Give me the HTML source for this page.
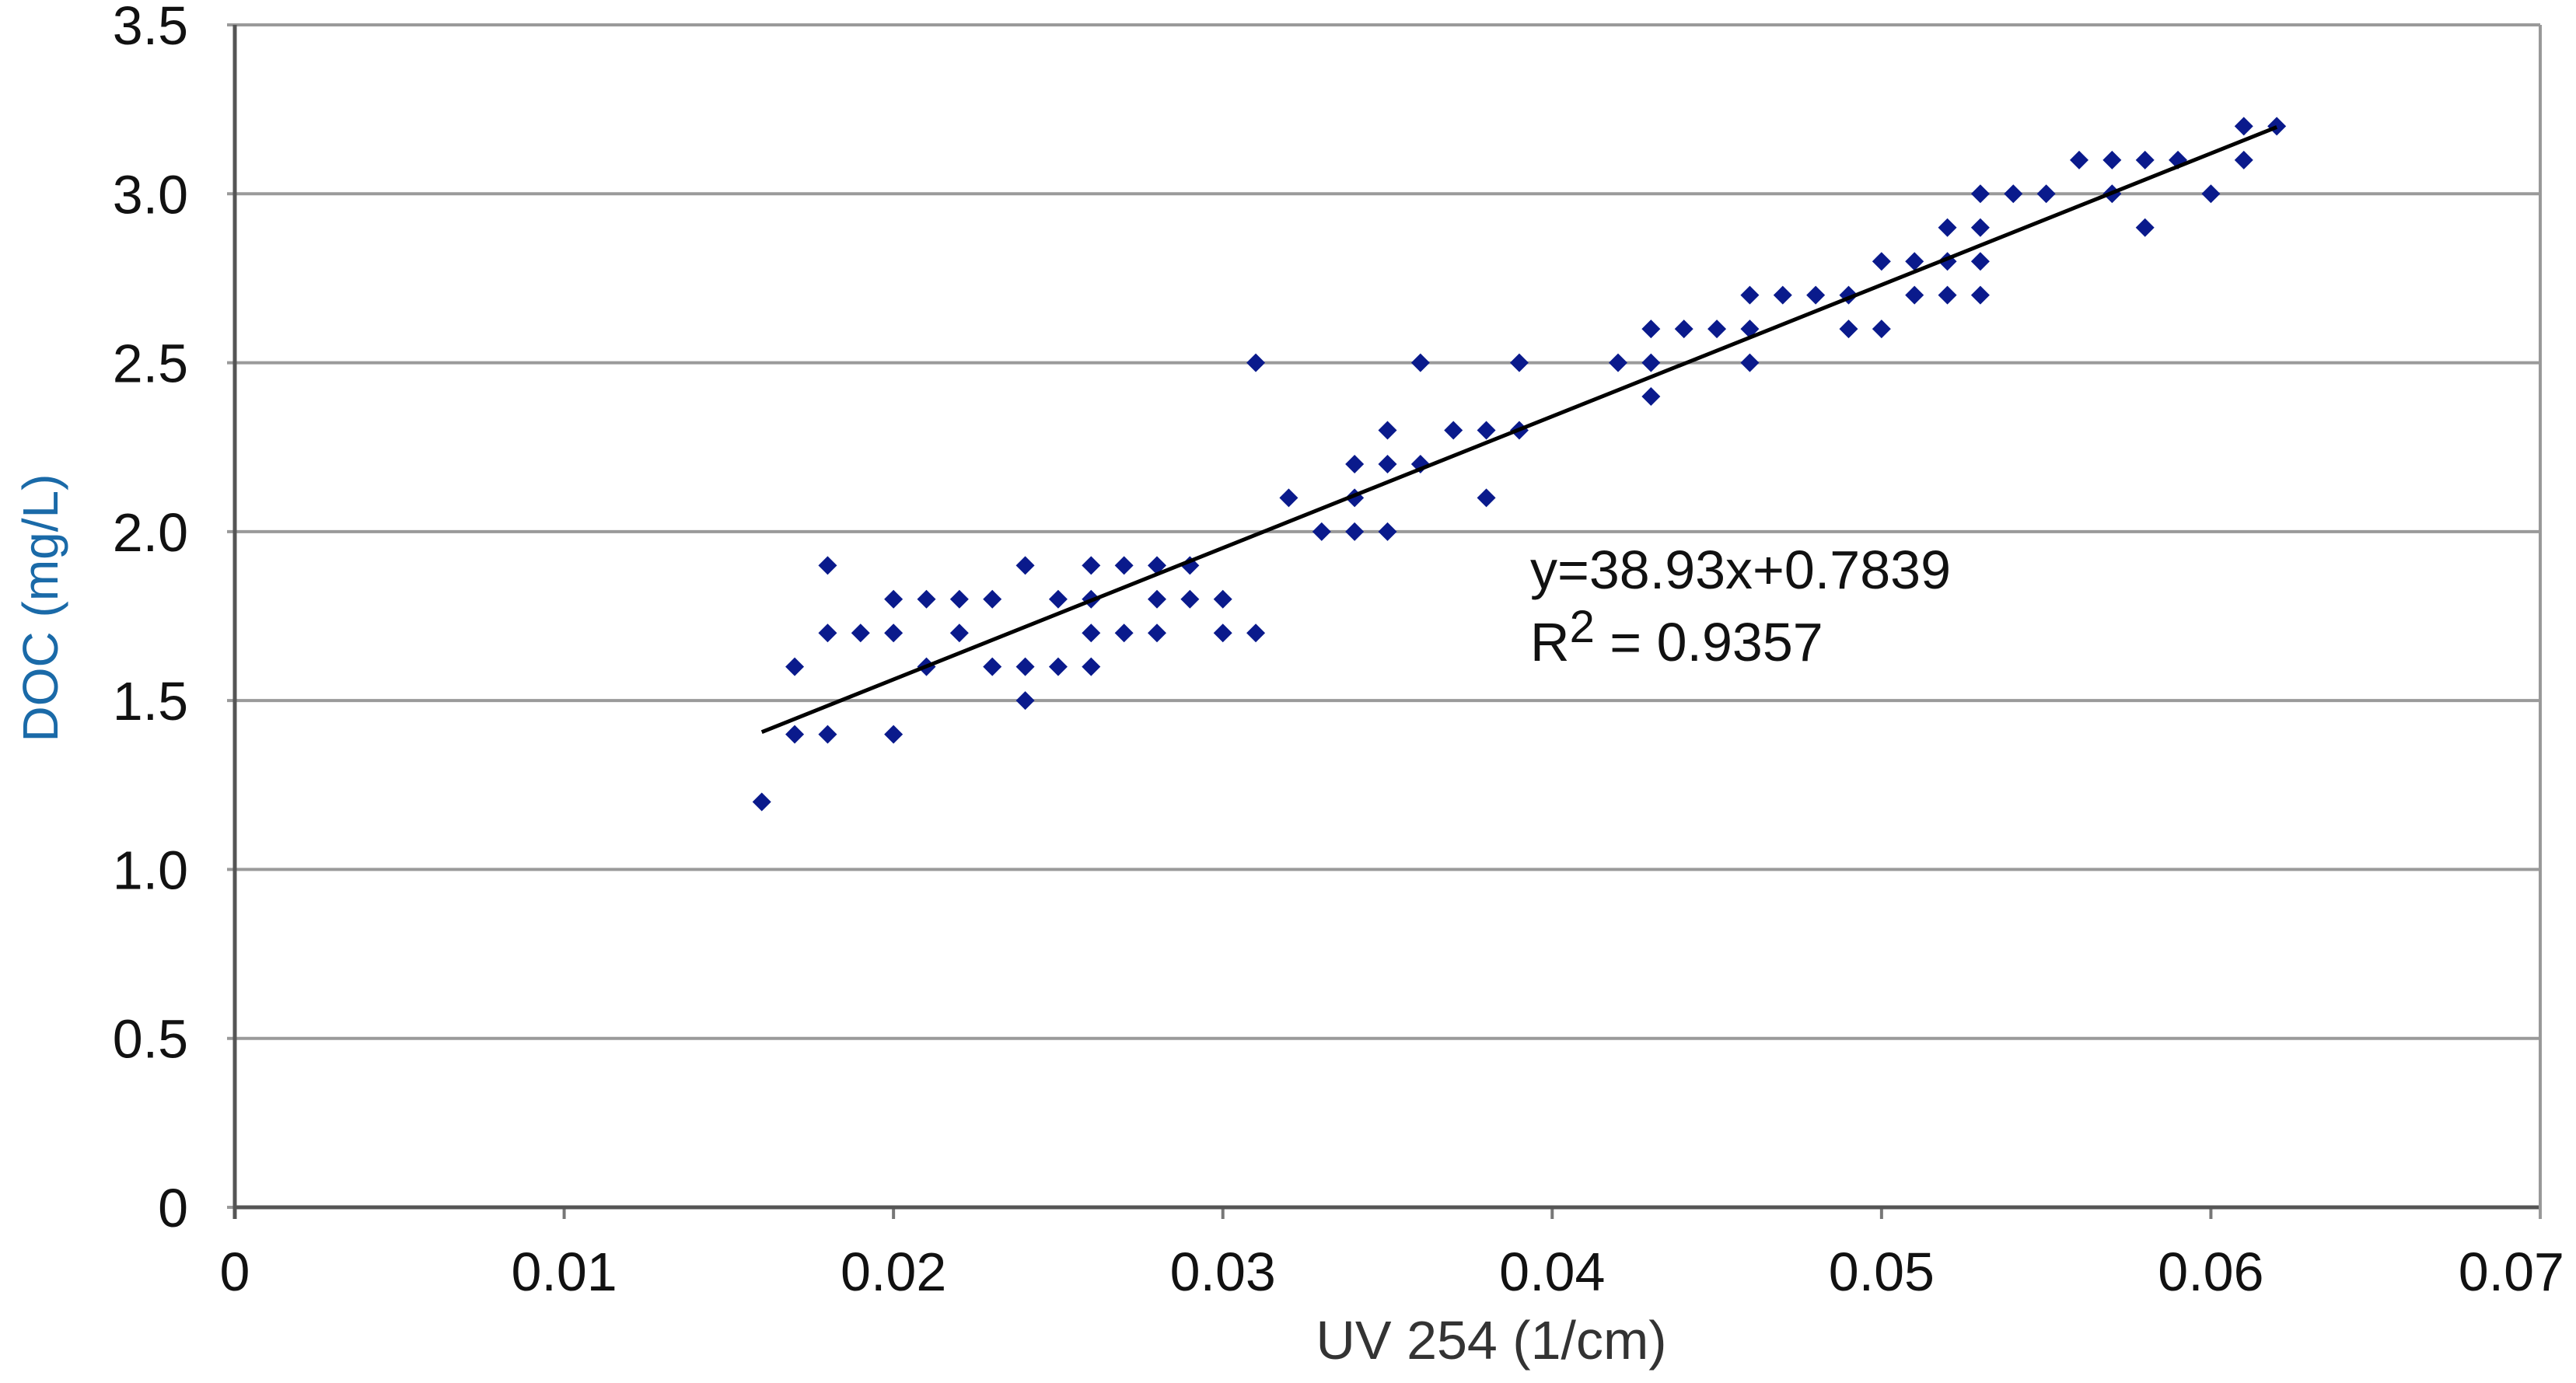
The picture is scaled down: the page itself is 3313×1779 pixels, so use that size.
<!DOCTYPE html>
<html><head><meta charset="utf-8"><style>
html,body{margin:0;padding:0;background:#fff;}
svg{display:block;font-family:"Liberation Sans",sans-serif;}
</style></head><body>
<svg id="chart" width="3313" height="1779" viewBox="0 0 3313 1779">
<g id="grid"></g>
<g id="axes"></g>
<g id="points"></g>
<g id="trend"></g>
<text x="1968" y="757" font-size="70" fill="#111">y=38.93x+0.7839</text>
<text x="1968" y="850" font-size="70" fill="#111">R<tspan font-size="58" dy="-24">2</tspan><tspan dy="24"> = 0.9357</tspan></text>
<text x="1918" y="1748" font-size="70" fill="#333" text-anchor="middle">UV 254 (1/cm)</text>
<text transform="translate(74,782) rotate(-90)" font-size="64" fill="#1a6aa8" text-anchor="middle">DOC (mg/L)</text>
</svg>
<script>
const xVals=[0.016,0.017,0.017,0.018,0.018,0.018,0.019,0.020,0.020,0.020,0.021,0.021,0.022,0.022,0.023,0.023,0.024,0.024,0.024,0.025,0.025,0.026,0.026,0.026,0.026,0.027,0.027,0.028,0.028,0.028,0.029,0.029,0.030,0.030,0.031,0.031,0.032,0.033,0.034,0.034,0.034,0.035,0.035,0.035,0.036,0.036,0.037,0.038,0.038,0.039,0.039,0.042,0.043,0.043,0.043,0.044,0.045,0.046,0.046,0.046,0.047,0.048,0.049,0.049,0.050,0.050,0.051,0.051,0.052,0.052,0.052,0.053,0.053,0.053,0.053,0.054,0.055,0.056,0.057,0.057,0.058,0.058,0.059,0.060,0.061,0.061,0.062];
const yVals=[1.2,1.6,1.4,1.9,1.7,1.4,1.7,1.8,1.7,1.4,1.8,1.6,1.8,1.7,1.8,1.6,1.9,1.6,1.5,1.8,1.6,1.9,1.8,1.7,1.6,1.9,1.7,1.9,1.8,1.7,1.9,1.8,1.8,1.7,2.5,1.7,2.1,2.0,2.2,2.1,2.0,2.3,2.2,2.0,2.5,2.2,2.3,2.3,2.1,2.5,2.3,2.5,2.6,2.5,2.4,2.6,2.6,2.7,2.6,2.5,2.7,2.7,2.7,2.6,2.8,2.6,2.8,2.7,2.9,2.8,2.7,3.0,2.9,2.8,2.7,3.0,3.0,3.1,3.1,3.0,3.1,2.9,3.1,3.0,3.2,3.1,3.2];
const xTicks=[0,0.01,0.02,0.03,0.04,0.05,0.06,0.07];
const xTickLabels=["0","0.01","0.02","0.03","0.04","0.05","0.06","0.07"];
const yTicks=[0,0.5,1.0,1.5,2.0,2.5,3.0,3.5];
const yTickLabels=["0","0.5","1.0","1.5","2.0","2.5","3.0","3.5"];
const trendSlope=38.93, trendIntercept=0.7839, trendRange=[0.016,0.062];

const X0=302,X1=3267,Y0=1553,Y1=32;
const sx=v=>X0+(v-0)/(0.07)*(X1-X0);
const sy=v=>Y0-(v-0)/(3.5)*(Y0-Y1);
const NS="http://www.w3.org/2000/svg";
function mk(tag,attrs,parent){const e=document.createElementNS(NS,tag);for(const k in attrs)e.setAttribute(k,attrs[k]);parent.appendChild(e);return e;}
const grid=document.getElementById('grid'),axes=document.getElementById('axes'),pts=document.getElementById('points'),tr=document.getElementById('trend');
yTicks.forEach((t,i)=>{
  const l=mk('line',{x1:X0-10,x2:X1,y1:sy(t),y2:sy(t),stroke:'#9a9a9a','stroke-width':4},grid);
  
  
  const tx=mk('text',{x:242,y:sy(t)+25,'font-size':70,'text-anchor':'end',fill:'#111'},axes);
  tx.textContent=yTickLabels[i];
  
  
});
xTicks.forEach((t,i)=>{
  const l=mk('line',{x1:sx(t),x2:sx(t),y1:Y0,y2:Y0+15,stroke:'#777','stroke-width':4},axes);
  
  
  const last=i===xTicks.length-1;
  const tx=mk('text',{x:last?3298:sx(t),y:1660,'font-size':70,'text-anchor':last?'end':'middle',fill:'#111'},axes);
  tx.textContent=xTickLabels[i];
  
  
});
const ya=mk('line',{x1:X0,x2:X0,y1:Y1,y2:Y0+15,stroke:'#555','stroke-width':5},axes);


const xa=mk('line',{x1:X0,x2:X1,y1:Y0,y2:Y0,stroke:'#555','stroke-width':5},axes);


const rb=mk('line',{x1:X1,x2:X1,y1:Y1,y2:Y0+15,stroke:'#999','stroke-width':4},axes);


xVals.forEach((x,i)=>{
  const cx=sx(x),cy=sy(yVals[i]),r=12;
  const p=mk('polygon',{points:`${cx},${cy-r} ${cx+r},${cy} ${cx},${cy+r} ${cx-r},${cy}`,fill:'#0a1a8c'},pts);
  
  
});
const tl=mk('line',{x1:sx(trendRange[0]),y1:sy(trendSlope*trendRange[0]+trendIntercept),x2:sx(trendRange[1]),y2:sy(trendSlope*trendRange[1]+trendIntercept),stroke:'#000','stroke-width':5},tr);


</script>
</body></html>
